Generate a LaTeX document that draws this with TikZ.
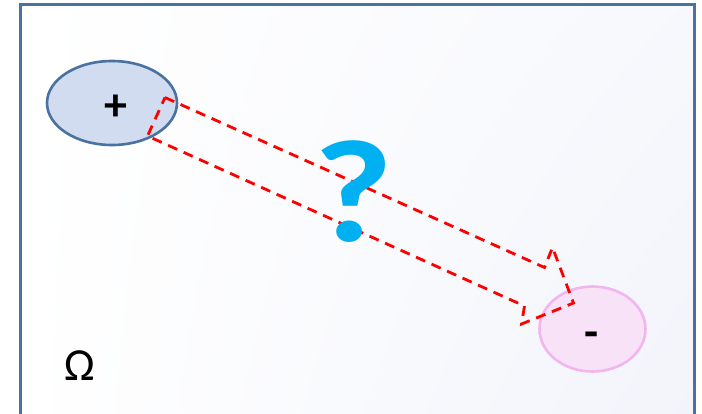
\documentclass[tikz,border=0pt]{standalone}
\usepackage{fontspec}
\setmainfont{Carlito}
\usetikzlibrary{shapes.geometric,shadings}
\definecolor{framec}{HTML}{4A72A0}
\definecolor{plusfill}{HTML}{D1DCF0}
\definecolor{minusfill}{HTML}{F8E2F8}
\definecolor{minusline}{HTML}{F2B6EE}
\definecolor{qcyan}{HTML}{00B0F0}
\definecolor{bgend}{HTML}{F2F4FB}
\begin{document}
\begin{tikzpicture}[x=1pt,y=-1pt,
  arrowline/.style={red, line width=2.8pt, dash pattern=on 10pt off 7pt, line join=miter},
  blob/.style={ellipse, line width=2.6pt, inner sep=0pt},
  sign/.style={font=\fontsize{46}{46}\selectfont\bfseries}]
\useasboundingbox (0,0) rectangle (702,413);
\clip (0,0) rectangle (702,413);
\shade[upper left=white, upper right=bgend!60, lower left=white, lower right=bgend] (20.5,4.5) rectangle (694,430);
\draw[framec, line width=3pt] (20.5,4.5) rectangle (694,430);
\node[blob, draw=framec, fill=plusfill, minimum width=130pt, minimum height=84pt] (plus) at (112,103) {};
\node[sign] (plustxt) at (115.5,108) {+};
\node[blob, draw=minusline, fill=minusfill, minimum width=106pt, minimum height=85pt] (minus) at (592.5,329) {};
\node[sign] (minustxt) at (592,340) {-};
\coordinate (a1) at (165,97.5);
\coordinate (a2) at (544.5,267.5);
\coordinate (a3) at (552.5,247.5);
\coordinate (a4) at (573.5,303);
\coordinate (a5) at (521.5,324);
\coordinate (a6) at (524.5,306);
\coordinate (a7) at (147.5,136);
\draw[arrowline] (a1) -- (a2) -- (a3) -- (a4) -- (a5) -- (a6) -- (a7) -- cycle;
\node[text=qcyan, font=\fontsize{146}{146}\selectfont\bfseries, xscale=1.18] (q) at (353,192) {?};
\node[font=\fontsize{46}{46}\selectfont] (omega) at (80,366) {Ω};
\end{tikzpicture}
\end{document}
